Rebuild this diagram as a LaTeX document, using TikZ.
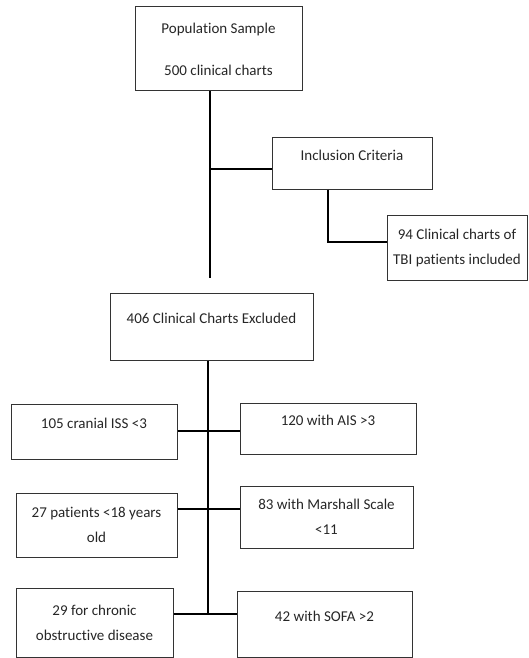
\documentclass[tikz,border=0pt]{standalone}
\usepackage{fontspec}
\setmainfont{Carlito}[Ligatures=NoCommon]
\begin{document}
\begin{tikzpicture}[x=1pt,y=-1pt,
  box/.style={draw=black!80, line width=1pt, rectangle, align=center, inner sep=2pt,
    font=\fontsize{15}{25}\selectfont, text=black!85},
  lift/.style={text depth=16pt},
  link/.style={draw=black, line width=2pt}]
\useasboundingbox (0,0) rectangle (528,658);
% boxes
\node[box, minimum width=167, minimum height=84] (pop) at (218.5,49) {Population Sample\\[17pt]500 clinical charts};
\node[box, lift, minimum width=160, minimum height=52] (incl) at (352,163) {Inclusion Criteria};
\node[box, minimum width=140, minimum height=65] (inc94) at (457,247.5) {94 Clinical charts of\\TBI patients included};
\node[box, lift, minimum width=203, minimum height=67] (excl) at (211.5,326.5) {406 Clinical Charts Excluded};
\node[box, lift, minimum width=166, minimum height=55] (c105) at (94,431.5) {105 cranial ISS <3};
\node[box, lift, minimum width=176, minimum height=51] (c120) at (328,428.5) {120 with AIS >3};
\node[box, minimum width=161, minimum height=64] (c27) at (96.5,525) {27 patients <18 years\\old};
\node[box, minimum width=173, minimum height=62] (c83) at (326.5,517) {83 with Marshall Scale\\<11};
\node[box, minimum width=157, minimum height=69] (c29) at (94.5,622.5) {29 for chronic\\obstructive disease};
\node[box, lift, minimum width=175, minimum height=66] (c42) at (324.5,624) {42 with SOFA >2};
% joints
\coordinate (b1) at (210,169);
\coordinate (t1) at (210,278);
\coordinate (b2) at (328,242);
\coordinate (j1) at (208,431);
\coordinate (j2) at (208,509);
\coordinate (j3) at (208,614);
% connectors
\draw[link] (pop.south -| b1) -- (t1);
\draw[link] (b1) -- (b1 -| incl.west);
\draw[link] (incl.south -| b2) -- (b2) -- (b2 -| inc94.west);
\draw[link] (excl.south -| j1) -- (j3);
\draw[link] (c105.east |- j1) -- (c120.west |- j1);
\draw[link] (c27.east |- j2) -- (c83.west |- j2);
\draw[link] (c29.east |- j3) -- (c42.west |- j3);

\end{tikzpicture}
\end{document}
